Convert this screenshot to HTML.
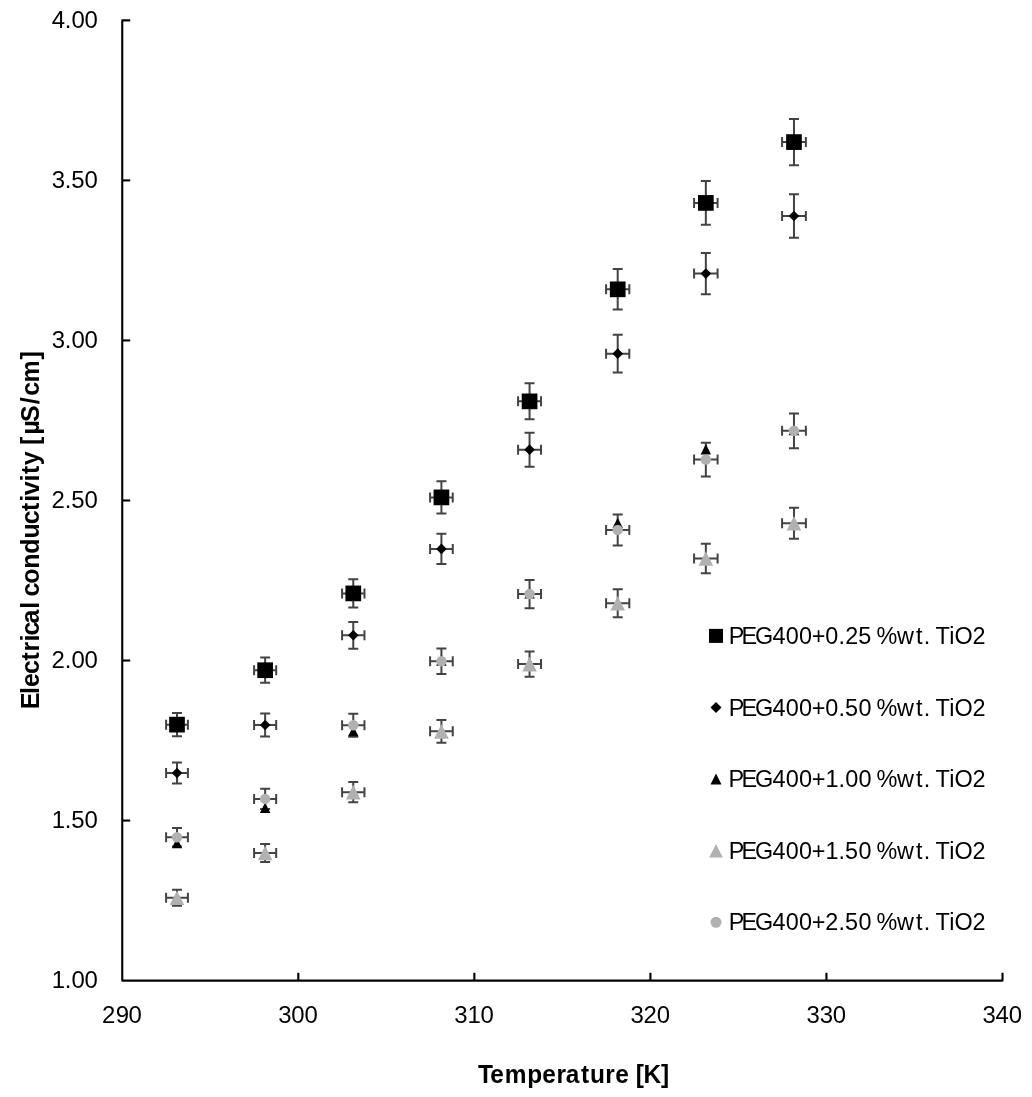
<!DOCTYPE html>
<html lang="en"><head><meta charset="utf-8"><title>Electrical conductivity vs temperature</title>
<style>html,body{margin:0;padding:0;background:#fff}svg{display:block}</style></head>
<body>
<svg width="1032" height="1097" viewBox="0 0 1032 1097">
<rect width="1032" height="1097" fill="#fff"/>
<g stroke="#000" stroke-width="2.1" fill="none" stroke-linejoin="round">
<path d="M130.2 20.36H122.25V980.6H1002.50V972.8"/>
<path d="M122.25 820.56H130.2"/>
<path d="M122.25 660.52H130.2"/>
<path d="M122.25 500.48H130.2"/>
<path d="M122.25 340.44H130.2"/>
<path d="M122.25 180.40H130.2"/>
<path d="M298.30 980.6V972.8"/>
<path d="M474.35 980.6V972.8"/>
<path d="M650.40 980.6V972.8"/>
<path d="M826.45 980.6V972.8"/>
</g>
<g stroke="#434343" stroke-width="2" fill="none">
<path d="M166.10 724.64H187.90M166.10 719.64V729.64M187.90 719.64V729.64M177.00 713.11V736.16M172.00 713.11H182.00M172.00 736.16H182.00"/>
<path d="M254.10 670.22H276.18M254.10 665.22V675.22M276.18 665.22V675.22M265.14 657.61V682.83M260.14 657.61H270.14M260.14 682.83H270.14"/>
<path d="M342.09 593.40H364.47M342.09 588.40V598.40M364.47 588.40V598.40M353.28 579.26V607.55M348.28 579.26H358.28M348.28 607.55H358.28"/>
<path d="M430.09 497.38H452.75M430.09 492.38V502.38M452.75 492.38V502.38M441.42 481.31V513.45M436.42 481.31H446.42M436.42 513.45H446.42"/>
<path d="M518.09 401.36H541.03M518.09 396.36V406.36M541.03 396.36V406.36M529.56 383.37V419.34M524.56 383.37H534.56M524.56 419.34H534.56"/>
<path d="M606.09 289.33H629.32M606.09 284.33V294.33M629.32 284.33V294.33M617.70 269.10V309.56M612.70 269.10H622.70M612.70 309.56H622.70"/>
<path d="M694.08 202.91H717.60M694.08 197.91V207.91M717.60 197.91V207.91M705.84 180.95V224.86M700.84 180.95H710.84M700.84 224.86H710.84"/>
<path d="M782.08 142.09H805.88M782.08 137.09V147.09M805.88 137.09V147.09M793.98 118.92V165.26M788.98 118.92H798.98M788.98 165.26H798.98"/>
<path d="M166.10 772.95H187.90M166.10 767.95V777.95M187.90 767.95V777.95M177.00 762.39V783.51M172.00 762.39H182.00M172.00 783.51H182.00"/>
<path d="M254.10 724.94H276.18M254.10 719.94V729.94M276.18 719.94V729.94M265.14 713.41V736.46M260.14 713.41H270.14M260.14 736.46H270.14"/>
<path d="M342.09 635.31H364.47M342.09 630.31V640.31M364.47 630.31V640.31M353.28 622.00V648.63M348.28 622.00H358.28M348.28 648.63H358.28"/>
<path d="M430.09 548.89H452.75M430.09 543.89V553.89M452.75 543.89V553.89M441.42 533.85V563.94M436.42 533.85H446.42M436.42 563.94H446.42"/>
<path d="M518.09 449.67H541.03M518.09 444.67V454.67M541.03 444.67V454.67M529.56 432.64V466.70M524.56 432.64H534.56M524.56 466.70H534.56"/>
<path d="M606.09 353.64H629.32M606.09 348.64V358.64M629.32 348.64V358.64M617.70 334.69V372.59M612.70 334.69H622.70M612.70 372.59H622.70"/>
<path d="M694.08 273.62H717.60M694.08 268.62V278.62M717.60 268.62V278.62M705.84 253.07V294.17M700.84 253.07H710.84M700.84 294.17H710.84"/>
<path d="M782.08 216.01H805.88M782.08 211.01V221.01M805.88 211.01V221.01M793.98 194.31V237.71M788.98 194.31H798.98M788.98 237.71H798.98"/>
<path d="M166.10 897.78H187.90M166.10 892.78V902.78M187.90 892.78V902.78M177.00 889.71V905.85M172.00 889.71H182.00M172.00 905.85H182.00"/>
<path d="M254.10 852.97H276.18M254.10 847.97V857.97M276.18 847.97V857.97M265.14 844.01V861.93M260.14 844.01H270.14M260.14 861.93H270.14"/>
<path d="M342.09 792.15H364.47M342.09 787.15V797.15M364.47 787.15V797.15M353.28 781.97V802.33M348.28 781.97H358.28M348.28 802.33H358.28"/>
<path d="M430.09 731.34H452.75M430.09 726.34V736.34M452.75 726.34V736.34M441.42 719.94V742.73M436.42 719.94H446.42M436.42 742.73H446.42"/>
<path d="M518.09 664.12H541.03M518.09 659.12V669.12M541.03 659.12V669.12M529.56 651.38V676.86M524.56 651.38H534.56M524.56 676.86H534.56"/>
<path d="M606.09 603.31H629.32M606.09 598.31V608.31M629.32 598.31V608.31M617.70 589.35V617.26M612.70 589.35H622.70M612.70 617.26H622.70"/>
<path d="M694.08 558.49H717.60M694.08 553.49V563.49M717.60 553.49V563.49M705.84 543.64V573.35M700.84 543.64H710.84M700.84 573.35H710.84"/>
<path d="M782.08 523.29H805.88M782.08 518.29V528.29M805.88 518.29V528.29M793.98 507.73V538.84M788.98 507.73H798.98M788.98 538.84H798.98"/>
<path d="M166.10 837.31H187.90M166.10 832.31V842.31M187.90 832.31V842.31M177.00 828.03V846.60M172.00 828.03H182.00M172.00 846.60H182.00"/>
<path d="M254.10 798.90H276.18M254.10 793.90V803.90M276.18 793.90V803.90M265.14 788.85V808.95M260.14 788.85H270.14M260.14 808.95H270.14"/>
<path d="M342.09 725.29H364.47M342.09 720.29V730.29M364.47 720.29V730.29M353.28 713.76V736.81M348.28 713.76H358.28M348.28 736.81H358.28"/>
<path d="M430.09 661.27H452.75M430.09 656.27V666.27M452.75 656.27V666.27M441.42 648.47V674.07M436.42 648.47H446.42M436.42 674.07H446.42"/>
<path d="M518.09 594.05H541.03M518.09 589.05V599.05M541.03 589.05V599.05M529.56 579.91V608.20M524.56 579.91H534.56M524.56 608.20H534.56"/>
<path d="M606.09 530.04H629.32M606.09 525.04V535.04M629.32 525.04V535.04M617.70 514.61V545.47M612.70 514.61H622.70M612.70 545.47H622.70"/>
<path d="M694.08 459.62H717.60M694.08 454.62V464.62M717.60 454.62V464.62M705.84 442.78V476.46M700.84 442.78H710.84M700.84 476.46H710.84"/>
<path d="M782.08 430.81H805.88M782.08 425.81V435.81M805.88 425.81V435.81M793.98 413.40V448.22M788.98 413.40H798.98M788.98 448.22H798.98"/>
</g>
<rect x="169.15" y="716.79" width="15.7" height="15.7" fill="#000"/>
<rect x="257.29" y="662.37" width="15.7" height="15.7" fill="#000"/>
<rect x="345.43" y="585.55" width="15.7" height="15.7" fill="#000"/>
<rect x="433.57" y="489.53" width="15.7" height="15.7" fill="#000"/>
<rect x="521.71" y="393.51" width="15.7" height="15.7" fill="#000"/>
<rect x="609.85" y="281.48" width="15.7" height="15.7" fill="#000"/>
<rect x="697.99" y="195.06" width="15.7" height="15.7" fill="#000"/>
<rect x="786.13" y="134.24" width="15.7" height="15.7" fill="#000"/>
<path d="M177.00 767.65L182.30 772.95L177.00 778.25L171.70 772.95Z" fill="#000"/>
<path d="M265.14 719.64L270.44 724.94L265.14 730.24L259.84 724.94Z" fill="#000"/>
<path d="M353.28 630.01L358.58 635.31L353.28 640.61L347.98 635.31Z" fill="#000"/>
<path d="M441.42 543.59L446.72 548.89L441.42 554.19L436.12 548.89Z" fill="#000"/>
<path d="M529.56 444.37L534.86 449.67L529.56 454.97L524.26 449.67Z" fill="#000"/>
<path d="M617.70 348.34L623.00 353.64L617.70 358.94L612.40 353.64Z" fill="#000"/>
<path d="M705.84 268.32L711.14 273.62L705.84 278.92L700.54 273.62Z" fill="#000"/>
<path d="M793.98 210.71L799.28 216.01L793.98 221.31L788.68 216.01Z" fill="#000"/>
<path d="M177.00 837.77L182.20 848.17H171.80Z" fill="#000"/>
<path d="M265.14 802.56L270.34 812.96H259.94Z" fill="#000"/>
<path d="M353.28 725.74L358.48 736.14H348.08Z" fill="#000"/>
<path d="M441.42 655.32L446.62 665.72H436.22Z" fill="#000"/>
<path d="M529.56 588.10L534.76 598.50H524.36Z" fill="#000"/>
<path d="M617.70 517.69L622.90 528.09H612.50Z" fill="#000"/>
<path d="M705.84 444.07L711.04 454.47H700.64Z" fill="#000"/>
<path d="M793.98 424.86L799.18 435.26H788.78Z" fill="#000"/>
<path d="M177.00 890.48L184.30 905.08H169.70Z" fill="#b1b1b1"/>
<path d="M265.14 845.67L272.44 860.27H257.84Z" fill="#b1b1b1"/>
<path d="M353.28 784.85L360.58 799.45H345.98Z" fill="#b1b1b1"/>
<path d="M441.42 724.04L448.72 738.64H434.12Z" fill="#b1b1b1"/>
<path d="M529.56 656.82L536.86 671.42H522.26Z" fill="#b1b1b1"/>
<path d="M617.70 596.01L625.00 610.61H610.40Z" fill="#b1b1b1"/>
<path d="M705.84 551.19L713.14 565.79H698.54Z" fill="#b1b1b1"/>
<path d="M793.98 515.99L801.28 530.59H786.68Z" fill="#b1b1b1"/>
<circle cx="177.00" cy="837.31" r="5.25" fill="#b1b1b1"/>
<circle cx="265.14" cy="798.90" r="5.25" fill="#b1b1b1"/>
<circle cx="353.28" cy="725.29" r="5.25" fill="#b1b1b1"/>
<circle cx="441.42" cy="661.27" r="5.25" fill="#b1b1b1"/>
<circle cx="529.56" cy="594.05" r="5.25" fill="#b1b1b1"/>
<circle cx="617.70" cy="530.04" r="5.25" fill="#b1b1b1"/>
<circle cx="705.84" cy="459.62" r="5.25" fill="#b1b1b1"/>
<circle cx="793.98" cy="430.81" r="5.25" fill="#b1b1b1"/>
<rect x="709.00" y="628.90" width="14" height="14" fill="#000"/>
<path d="M716.00 702.00L721.50 707.50L716.00 713.00L710.50 707.50Z" fill="#000"/>
<path d="M716.00 773.60L721.50 784.60H710.50Z" fill="#000"/>
<path d="M716.00 843.90L722.80 857.50H709.20Z" fill="#b1b1b1"/>
<circle cx="716.00" cy="922.30" r="5.5" fill="#b1b1b1"/>
<g font-family="'Liberation Sans', sans-serif" fill="#000">
<text transform="translate(728.65 643.90) scale(0.967 1)" x="0.00 13.33 27.31 45.38 59.02 72.74 86.00 99.94 113.57 120.53 134.06 147.81 152.85 174.21 193.70 201.74 208.53 213.87 228.25 233.62 252.15" y="0" font-size="24.2">PEG400+0.25 %wt. TiO2</text>
<text transform="translate(728.63 715.50) scale(0.969 1)" x="0.00 13.30 27.25 45.29 58.90 72.59 85.82 99.74 113.35 120.09 133.95 147.52 152.53 173.85 193.31 201.34 208.12 213.43 227.79 233.13 251.63" y="0" font-size="24.2">PEG400+0.50 %wt. TiO2</text>
<text transform="translate(728.61 787.10) scale(0.971 1)" x="0.00 13.27 27.20 45.20 58.78 72.45 85.65 99.77 113.13 120.01 133.67 147.23 152.21 173.49 192.92 200.93 207.71 212.99 227.33 232.65 251.12" y="0" font-size="24.2">PEG400+1.00 %wt. TiO2</text>
<text transform="translate(728.66 858.70) scale(0.965 1)" x="0.00 13.35 27.37 45.47 59.14 72.89 86.17 100.38 113.80 120.58 134.49 148.10 153.17 174.57 194.09 202.15 208.95 214.31 228.71 234.10 252.67" y="0" font-size="24.2">PEG400+1.50 %wt. TiO2</text>
<text transform="translate(728.65 930.30) scale(0.967 1)" x="0.00 13.33 27.31 45.38 59.02 72.74 86.00 99.98 113.57 120.34 134.22 147.81 152.85 174.21 193.70 201.74 208.53 213.87 228.25 233.62 252.15" y="0" font-size="24.2">PEG400+2.50 %wt. TiO2</text>
<text transform="translate(51.79 988.40) scale(0.99 1)" x="0.00 13.15 19.80 33.16" y="0" font-size="24.2">1.00</text>
<text transform="translate(51.79 828.36) scale(0.99 1)" x="0.00 13.15 19.64 33.16" y="0" font-size="24.2">1.50</text>
<text transform="translate(51.61 668.32) scale(0.99 1)" x="0.00 13.33 19.99 33.35" y="0" font-size="24.2">2.00</text>
<text transform="translate(51.61 508.28) scale(0.99 1)" x="0.00 13.33 19.83 33.35" y="0" font-size="24.2">2.50</text>
<text transform="translate(51.76 348.24) scale(0.99 1)" x="0.00 13.18 19.84 33.20" y="0" font-size="24.2">3.00</text>
<text transform="translate(51.76 188.20) scale(0.99 1)" x="0.00 13.18 19.68 33.20" y="0" font-size="24.2">3.50</text>
<text transform="translate(51.66 28.16) scale(0.99 1)" x="0.00 13.28 19.93 33.30" y="0" font-size="24.2">4.00</text>
<text transform="translate(102.09 1022.90) scale(0.99 1)" x="0.00 13.73 26.69" y="0" font-size="24.2">290</text>
<text transform="translate(278.29 1022.90) scale(0.99 1)" x="0.00 13.18 26.54" y="0" font-size="24.2">300</text>
<text transform="translate(454.34 1022.90) scale(0.99 1)" x="0.00 13.40 26.54" y="0" font-size="24.2">310</text>
<text transform="translate(630.39 1022.90) scale(0.99 1)" x="0.00 13.21 26.54" y="0" font-size="24.2">320</text>
<text transform="translate(806.44 1022.90) scale(0.99 1)" x="0.00 13.36 26.54" y="0" font-size="24.2">330</text>
<text transform="translate(982.49 1022.90) scale(0.99 1)" x="0.00 13.26 26.54" y="0" font-size="24.2">340</text>
</g>
<g font-family="'Liberation Sans', sans-serif" font-weight="bold" fill="#000">
<text transform="translate(478.10 1082.60) scale(0.943 1)" x="0.00 12.81 28.28 52.07 68.14 83.10 92.98 109.04 118.63 134.81 145.49 160.26 167.24 175.44 193.87" y="0" font-size="25.9">Temperature [K]</text>
<text transform="translate(39.20 709.26) rotate(-90) scale(0.962 1)" x="0.00 15.81 23.09 36.75 50.64 60.17 70.49 76.72 89.26 104.39 111.56 117.22 130.38 146.17 161.69 177.43 192.30 206.19 215.64 222.57 236.67 244.55 253.66 267.88 274.62 285.51 298.72 317.02 325.92 339.59 363.68" y="0" font-size="25.9">Electrical conductivity [µS/cm]</text>
</g>
</svg>
</body></html>
